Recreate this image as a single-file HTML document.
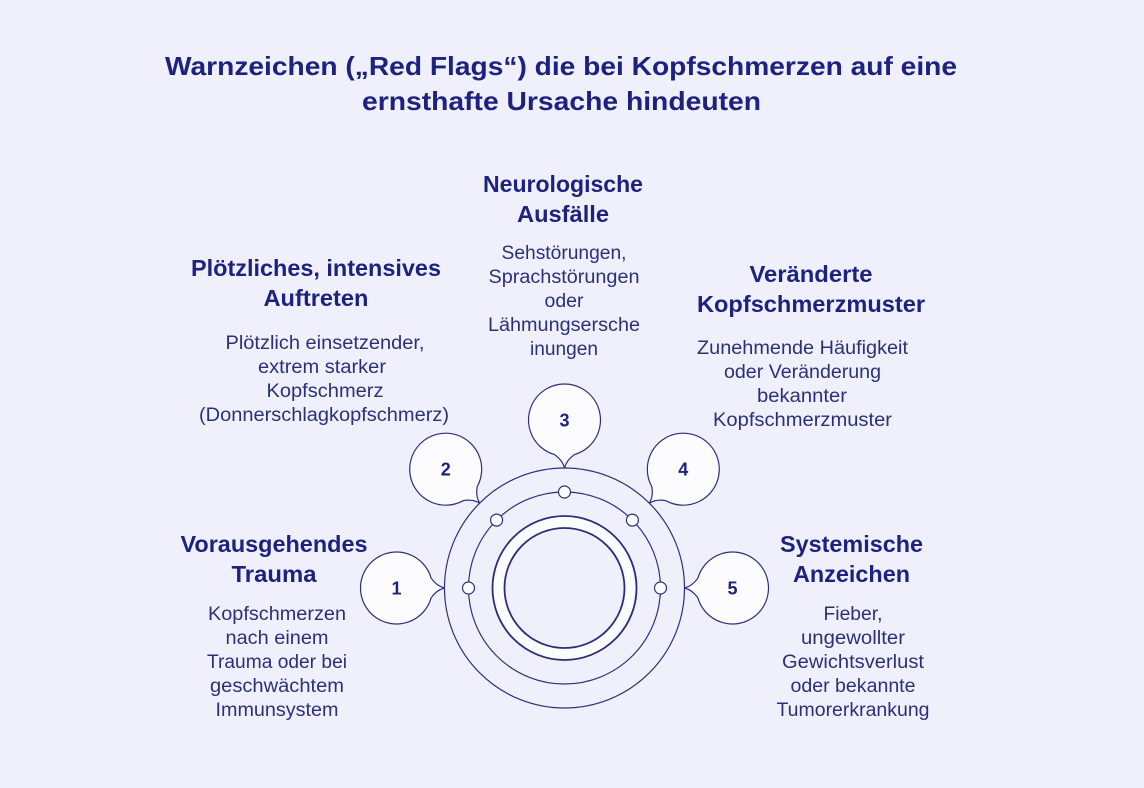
<!DOCTYPE html>
<html>
<head>
<meta charset="utf-8">
<style>
  html,body{margin:0;padding:0;background:#eff0fc;}
  svg{display:block;}
  .t{font-family:"Liberation Sans",Arial,sans-serif;font-weight:bold;font-size:26px;fill:#1d2280;}
  .h{font-family:"Liberation Sans",Arial,sans-serif;font-weight:bold;font-size:23px;fill:#1d2280;}
  .b{font-family:"Liberation Sans",Arial,sans-serif;font-size:19px;fill:#2c3077;}
  .n{font-family:"Liberation Sans",Arial,sans-serif;font-weight:bold;font-size:18px;fill:#1d2280;}
</style>
</head>
<body>
<svg width="1144" height="788" viewBox="0 0 1144 788" xmlns="http://www.w3.org/2000/svg">
  <rect x="0" y="0" width="1144" height="788" fill="#eff0fc"/>

  <!-- Title -->
  <text class="t" x="561" y="75" text-anchor="middle" textLength="792" lengthAdjust="spacingAndGlyphs">Warnzeichen („Red Flags“) die bei Kopfschmerzen auf eine</text>
  <text class="t" x="561.5" y="110" text-anchor="middle" textLength="399" lengthAdjust="spacingAndGlyphs">ernsthafte Ursache hindeuten</text>

  <!-- Central circles -->
  <circle cx="564.5" cy="588" r="120" fill="none" stroke="#2d317c" stroke-width="1.2"/>
  <circle cx="564.5" cy="588" r="96" fill="none" stroke="#2d317c" stroke-width="1.2"/>
  <circle cx="564.5" cy="588" r="66" fill="none" stroke="#fcfcff" stroke-width="12"/>
  <circle cx="564.5" cy="588" r="72" fill="none" stroke="#2a2e7a" stroke-width="1.8"/>
  <circle cx="564.5" cy="588" r="60" fill="none" stroke="#2a2e7a" stroke-width="1.8"/>

  <!-- small nodes -->
  <g fill="#fcfcff" stroke="#2d317c" stroke-width="1.2">
    <circle cx="468.5" cy="588" r="6"/>
    <circle cx="496.6" cy="520.1" r="6"/>
    <circle cx="564.5" cy="492" r="6"/>
    <circle cx="632.4" cy="520.1" r="6"/>
    <circle cx="660.5" cy="588" r="6"/>
  </g>

  <!-- bubbles -->
  <g fill="#fcfcff" stroke="#2d317c" stroke-width="1.2">
    <path transform="translate(396.5,588) rotate(0)" d="M34.6,-9.92 Q40,-2 48,0 Q40,2 34.6,9.92 A36,36 0 1 1 34.6,-9.92 Z"/>
    <path transform="translate(445.7,469.2) rotate(45)" d="M34.6,-9.92 Q40,-2 48,0 Q40,2 34.6,9.92 A36,36 0 1 1 34.6,-9.92 Z"/>
    <path transform="translate(564.5,420) rotate(90)" d="M34.6,-9.92 Q40,-2 48,0 Q40,2 34.6,9.92 A36,36 0 1 1 34.6,-9.92 Z"/>
    <path transform="translate(683.3,469.2) rotate(135)" d="M34.6,-9.92 Q40,-2 48,0 Q40,2 34.6,9.92 A36,36 0 1 1 34.6,-9.92 Z"/>
    <path transform="translate(732.5,588) rotate(180)" d="M34.6,-9.92 Q40,-2 48,0 Q40,2 34.6,9.92 A36,36 0 1 1 34.6,-9.92 Z"/>
  </g>
  <text class="n" x="396.5" y="594.5" text-anchor="middle">1</text>
  <text class="n" x="445.7" y="475.5" text-anchor="middle">2</text>
  <text class="n" x="564.5" y="426.5" text-anchor="middle">3</text>
  <text class="n" x="683.3" y="475.5" text-anchor="middle">4</text>
  <text class="n" x="732.5" y="594.5" text-anchor="middle">5</text>

  <!-- 3: Neurologische Ausfälle -->
  <text class="h" x="563" y="192" text-anchor="middle" textLength="160" lengthAdjust="spacingAndGlyphs">Neurologische</text>
  <text class="h" x="563" y="222" text-anchor="middle" textLength="92" lengthAdjust="spacingAndGlyphs">Ausfälle</text>
  <text class="b" x="564" y="259" text-anchor="middle" textLength="125" lengthAdjust="spacingAndGlyphs">Sehstörungen,</text>
  <text class="b" x="564" y="283" text-anchor="middle" textLength="151" lengthAdjust="spacingAndGlyphs">Sprachstörungen</text>
  <text class="b" x="564" y="307" text-anchor="middle" textLength="39" lengthAdjust="spacingAndGlyphs">oder</text>
  <text class="b" x="564" y="331" text-anchor="middle" textLength="152" lengthAdjust="spacingAndGlyphs">Lähmungsersche</text>
  <text class="b" x="564" y="355" text-anchor="middle" textLength="68" lengthAdjust="spacingAndGlyphs">inungen</text>

  <!-- 2: Plötzliches, intensives Auftreten -->
  <text class="h" x="316" y="276" text-anchor="middle" textLength="250" lengthAdjust="spacingAndGlyphs">Plötzliches, intensives</text>
  <text class="h" x="316" y="306" text-anchor="middle" textLength="105" lengthAdjust="spacingAndGlyphs">Auftreten</text>
  <text class="b" x="325" y="349" text-anchor="middle" textLength="199" lengthAdjust="spacingAndGlyphs">Plötzlich einsetzender,</text>
  <text class="b" x="322" y="373" text-anchor="middle" textLength="128" lengthAdjust="spacingAndGlyphs">extrem starker</text>
  <text class="b" x="325" y="397" text-anchor="middle" textLength="117" lengthAdjust="spacingAndGlyphs">Kopfschmerz</text>
  <text class="b" x="324" y="421" text-anchor="middle" textLength="250" lengthAdjust="spacingAndGlyphs">(Donnerschlagkopfschmerz)</text>

  <!-- 4: Veränderte Kopfschmerzmuster -->
  <text class="h" x="811" y="282" text-anchor="middle" textLength="123" lengthAdjust="spacingAndGlyphs">Veränderte</text>
  <text class="h" x="811" y="312" text-anchor="middle" textLength="228" lengthAdjust="spacingAndGlyphs">Kopfschmerzmuster</text>
  <text class="b" x="802.5" y="354" text-anchor="middle" textLength="211" lengthAdjust="spacingAndGlyphs">Zunehmende Häufigkeit</text>
  <text class="b" x="802.5" y="378" text-anchor="middle" textLength="157" lengthAdjust="spacingAndGlyphs">oder Veränderung</text>
  <text class="b" x="802" y="402" text-anchor="middle" textLength="90" lengthAdjust="spacingAndGlyphs">bekannter</text>
  <text class="b" x="802.5" y="426" text-anchor="middle" textLength="179" lengthAdjust="spacingAndGlyphs">Kopfschmerzmuster</text>

  <!-- 1: Vorausgehendes Trauma -->
  <text class="h" x="274" y="552" text-anchor="middle" textLength="187" lengthAdjust="spacingAndGlyphs">Vorausgehendes</text>
  <text class="h" x="274" y="582" text-anchor="middle" textLength="85" lengthAdjust="spacingAndGlyphs">Trauma</text>
  <text class="b" x="277" y="620" text-anchor="middle" textLength="138" lengthAdjust="spacingAndGlyphs">Kopfschmerzen</text>
  <text class="b" x="277" y="644" text-anchor="middle" textLength="103" lengthAdjust="spacingAndGlyphs">nach einem</text>
  <text class="b" x="277" y="668" text-anchor="middle" textLength="140" lengthAdjust="spacingAndGlyphs">Trauma oder bei</text>
  <text class="b" x="277" y="692" text-anchor="middle" textLength="134" lengthAdjust="spacingAndGlyphs">geschwächtem</text>
  <text class="b" x="277" y="716" text-anchor="middle" textLength="123" lengthAdjust="spacingAndGlyphs">Immunsystem</text>

  <!-- 5: Systemische Anzeichen -->
  <text class="h" x="851.5" y="552" text-anchor="middle" textLength="143" lengthAdjust="spacingAndGlyphs">Systemische</text>
  <text class="h" x="851.5" y="582" text-anchor="middle" textLength="117" lengthAdjust="spacingAndGlyphs">Anzeichen</text>
  <text class="b" x="853" y="620" text-anchor="middle" textLength="59" lengthAdjust="spacingAndGlyphs">Fieber,</text>
  <text class="b" x="853" y="644" text-anchor="middle" textLength="104" lengthAdjust="spacingAndGlyphs">ungewollter</text>
  <text class="b" x="853" y="668" text-anchor="middle" textLength="142" lengthAdjust="spacingAndGlyphs">Gewichtsverlust</text>
  <text class="b" x="853" y="692" text-anchor="middle" textLength="125" lengthAdjust="spacingAndGlyphs">oder bekannte</text>
  <text class="b" x="853" y="716" text-anchor="middle" textLength="153" lengthAdjust="spacingAndGlyphs">Tumorerkrankung</text>
</svg>
</body>
</html>
